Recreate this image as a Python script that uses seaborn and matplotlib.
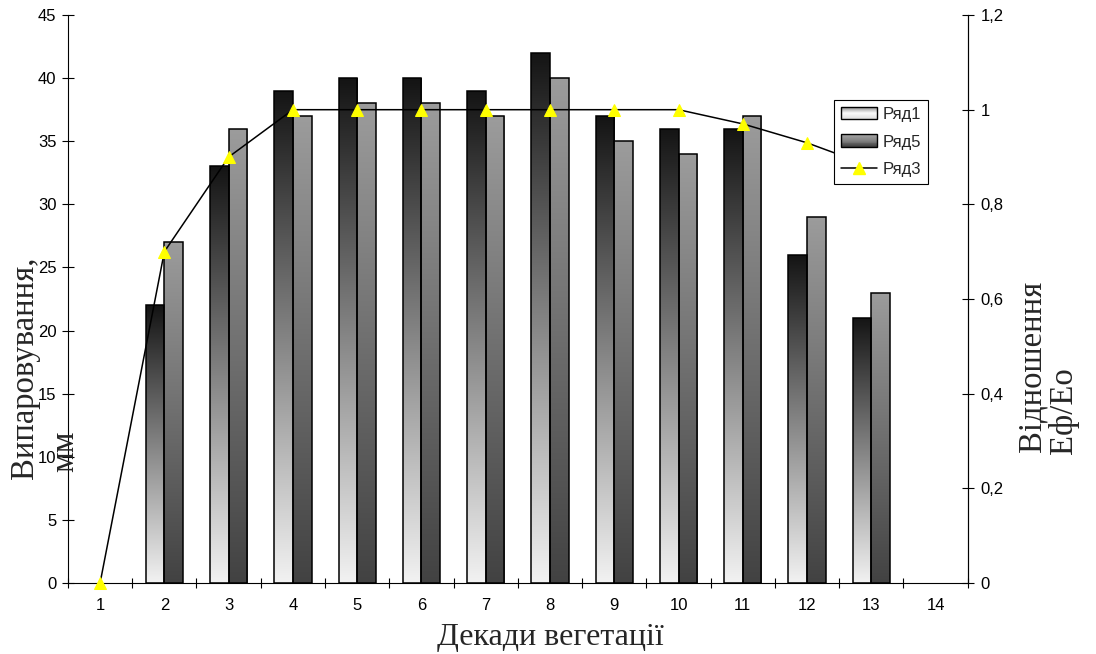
import matplotlib
matplotlib.use("Agg")
import matplotlib.colors as mcolors
import matplotlib.pyplot as plt
import numpy as np
import pandas as pd
import seaborn as sns
from matplotlib.legend_handler import HandlerBase
from matplotlib.lines import Line2D
from matplotlib.patches import Patch, Rectangle
from matplotlib.ticker import FuncFormatter, MultipleLocator


DECADES = [str(i) for i in range(1, 15)]
SERIES_1 = [0, 22, 33, 39, 40, 40, 39, 42, 37, 36, 36, 26, 21]
SERIES_5 = [0, 27, 36, 37, 38, 38, 37, 40, 35, 34, 37, 29, 23]
RATIO = [0, 0.70, 0.90, 1.0, 1.0, 1.0, 1.0, 1.0, 1.0, 1.0, 0.97, 0.93, 0.88]
SERIES_NAMES = ["Ряд1", "Ряд5", "Ряд3"]

# bottom -> top colours of the bar fills
GRAD_1 = mcolors.LinearSegmentedColormap.from_list("g1", ["#f2f2f2", "#141414"])
GRAD_5 = mcolors.LinearSegmentedColormap.from_list("g5", ["#424242", "#9c9c9c"])
LEG_1 = mcolors.LinearSegmentedColormap.from_list("l1", ["#d8d8d8", "#fafafa", "#7a7a7a"])
LEG_5 = mcolors.LinearSegmentedColormap.from_list("l5", ["#3c3c3c", "#808080", "#a8a8a8"])

SERIF = ["Liberation Serif", "DejaVu Serif"]


class GradientHandler(HandlerBase):
    def __init__(self, cmap):
        super().__init__()
        self.cmap = cmap

    def create_artists(self, legend, orig_handle, xdescent, ydescent,
                       width, height, fontsize, trans):
        n = 14
        arts = []
        for i in range(n):
            arts.append(Rectangle((-xdescent, -ydescent + height * i / n),
                                  width, height / n * 1.1,
                                  facecolor=self.cmap((i + 0.5) / n),
                                  edgecolor="none", antialiased=False,
                                  transform=trans))
        arts.append(Rectangle((-xdescent, -ydescent), width, height,
                              facecolor="none", edgecolor="black",
                              linewidth=1.0, transform=trans))
        return arts


def comma_fmt(v, _):
    s = f"{v:.1f}".rstrip("0").rstrip(".")
    return s.replace(".", ",")


sns.set_style("ticks")
plt.rcParams["font.family"] = ["Liberation Sans", "DejaVu Sans"]

df = pd.DataFrame({
    "decade": DECADES[:len(SERIES_1)] * 2,
    "value": SERIES_1 + SERIES_5,
    "series": [SERIES_NAMES[0]] * len(SERIES_1) + [SERIES_NAMES[1]] * len(SERIES_5),
})

fig, ax = plt.subplots(figsize=(10.96, 6.54), dpi=100)
fig.subplots_adjust(left=0.062, right=0.883, bottom=0.1086, top=0.977)

sns.barplot(data=df, x="decade", y="value", hue="series", order=DECADES,
            hue_order=SERIES_NAMES[:2], width=0.58, gap=0, errorbar=None,
            legend=False, saturation=1, edgecolor="black", linewidth=1.1, ax=ax)

# gradient fill for each bar, clipped to its rectangle
grad = np.linspace(0, 1, 256).reshape(-1, 1)
for cont, cmap in zip(ax.containers, [GRAD_1, GRAD_5]):
    for bar in cont:
        h = bar.get_height()
        if not np.isfinite(h) or h <= 0:
            bar.set_visible(False)
            continue
        x0, w = bar.get_x(), bar.get_width()
        im = ax.imshow(grad, extent=[x0, x0 + w, 0, h], origin="lower",
                       cmap=cmap, aspect="auto", zorder=1.5,
                       interpolation="bilinear")
        im.set_clip_path(bar)
        bar.set_facecolor("none")
        bar.set_zorder(2)

ax.set_xlim(-0.5, 13.5)
ax.set_ylim(0, 45)
ax.yaxis.set_major_locator(MultipleLocator(5))
ax.set_xticks(np.arange(-0.5, 14.0, 1.0))
ax.set_xticklabels([])
ax.set_xticks(np.arange(len(DECADES)), minor=True)
ax.set_xticklabels(DECADES, minor=True)
ax.tick_params(axis="x", which="major", direction="inout", length=7, width=0.8, color="black")
ax.tick_params(axis="x", which="minor", length=0, pad=11, labelsize=12, labelcolor="black")
ax.tick_params(axis="y", direction="inout", length=8.5, width=0.8, pad=4,
               labelsize=12, color="black", labelcolor="black")
ax.set_xlabel("")
ax.set_ylabel("")
ax.spines["top"].set_visible(False)
for s in ("left", "bottom"):
    ax.spines[s].set_color("black")
    ax.spines[s].set_linewidth(0.8)

ax2 = ax.twinx()
sns.lineplot(x=np.arange(len(RATIO)), y=RATIO, ax=ax2, color="black",
             linewidth=1.1, marker="^", markersize=9,
             markerfacecolor="#ffff00", markeredgecolor="#ffff00", clip_on=False)
ax2.set_xlim(-0.5, 13.5)
ax2.set_ylim(0, 1.2)
ax2.yaxis.set_major_locator(MultipleLocator(0.2))
ax2.yaxis.set_major_formatter(FuncFormatter(comma_fmt))
ax2.tick_params(axis="y", direction="inout", length=8.5, width=0.8, pad=5,
                labelsize=12, color="black", labelcolor="black")
ax2.set_xlabel("")
ax2.set_ylabel("")
ax2.spines["top"].set_visible(False)
ax2.spines["left"].set_visible(False)
ax2.spines["bottom"].set_visible(False)
ax2.spines["right"].set_color("black")
ax2.spines["right"].set_linewidth(0.8)

h1 = Patch(facecolor="#bbbbbb", edgecolor="black")
h5 = Patch(facecolor="#666666", edgecolor="black")
h3 = Line2D([], [], color="black", linewidth=1.1, marker="^", markersize=9,
            markerfacecolor="#ffff00", markeredgecolor="#ffff00")
leg = ax2.legend([h1, h5, h3], SERIES_NAMES, loc="upper left",
                 bbox_to_anchor=(834 / 1096, 1 - 100 / 654),
                 bbox_transform=fig.transFigure, frameon=True, fancybox=False,
                 edgecolor="black", framealpha=1, borderpad=0.4,
                 handlelength=2.2, handleheight=0.8, handletextpad=0.3,
                 labelspacing=0.75, borderaxespad=0,
                 prop={"family": "Liberation Sans", "size": 12},
                 handler_map={h1: GradientHandler(LEG_1), h5: GradientHandler(LEG_5)})
leg.get_frame().set_linewidth(0.8)
leg.set_zorder(10)

fig.text(25 / 1096, 1 - 368 / 654, "Випаровування,", rotation=90,
         family=SERIF, fontsize=23.5, ha="center", va="center")
fig.text(65 / 1096, 1 - 451 / 654, "мм", rotation=90,
         family=SERIF, fontsize=23.5, ha="center", va="center")
fig.text(1032 / 1096, 1 - 366 / 654, "Відношення", rotation=90,
         family=SERIF, fontsize=23.5, ha="center", va="center")
fig.text(1063 / 1096, 1 - 411 / 654, "Еф/Ео", rotation=90,
         family=SERIF, fontsize=23.5, ha="center", va="center")
fig.text(550 / 1096, 1 - 645 / 654, "Декади вегетації",
         family=SERIF, fontsize=23, ha="center", va="baseline")

fig.savefig("out.png", dpi=100)
